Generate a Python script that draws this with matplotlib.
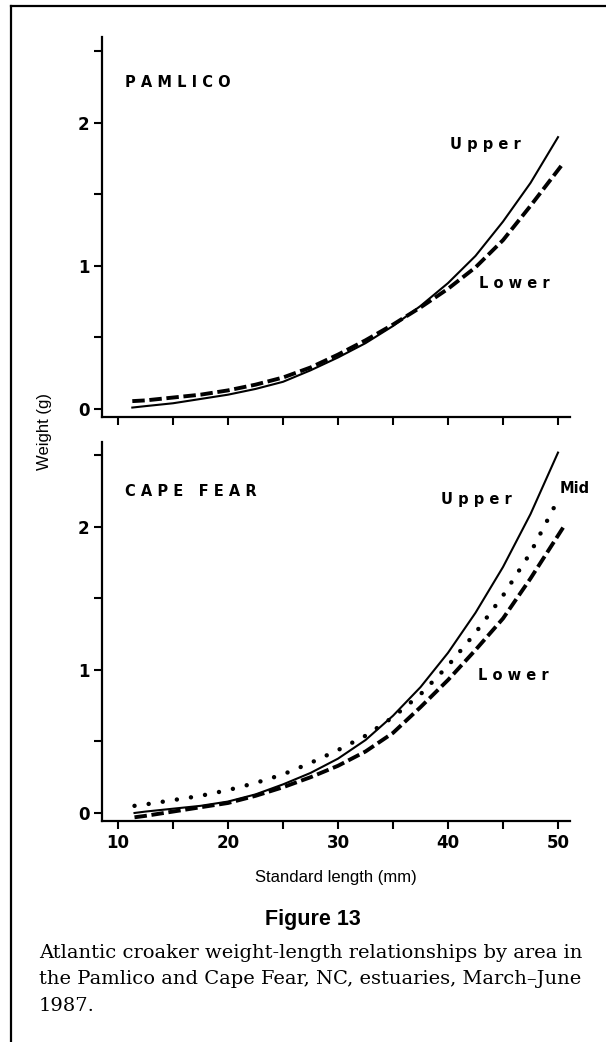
import matplotlib
matplotlib.use("Agg")
import matplotlib.pyplot as plt
from matplotlib.lines import Line2D

# ---------------- data ----------------
pam_upper_len = [11.3, 12.5, 15.0, 17.5, 20.0, 22.5, 25.0, 27.5, 30.0, 32.5,
                 35.0, 37.5, 40.0, 42.5, 45.0, 47.5, 50.0]
pam_upper_wt = [0.01, 0.02, 0.04, 0.07, 0.10, 0.14, 0.19, 0.27, 0.36, 0.46,
                0.58, 0.72, 0.88, 1.07, 1.31, 1.58, 1.90]
pam_lower_len = [11.3, 12.5, 15.0, 17.5, 20.0, 22.5, 25.0, 27.5, 30.0, 32.5,
                 35.0, 37.5, 40.0, 42.5, 45.0, 47.5, 50.5]
pam_lower_wt = [0.055, 0.06, 0.08, 0.10, 0.13, 0.17, 0.22, 0.29, 0.38, 0.48,
                0.59, 0.71, 0.84, 0.99, 1.18, 1.42, 1.72]

cf_upper_len = [11.5, 12.5, 15.0, 17.5, 20.0, 22.5, 25.0, 27.5, 30.0, 32.5,
                35.0, 37.5, 40.0, 42.5, 45.0, 47.5, 50.0]
cf_upper_wt = [0.00, 0.01, 0.03, 0.05, 0.08, 0.13, 0.20, 0.28, 0.38, 0.51,
               0.68, 0.88, 1.12, 1.40, 1.72, 2.09, 2.52]
cf_mid_len = [11.5, 12.5, 15.0, 17.5, 20.0, 22.5, 25.0, 27.5, 30.0, 32.5,
              35.0, 37.5, 40.0, 42.5, 45.0, 47.5, 50.0]
cf_mid_wt = [0.05, 0.06, 0.09, 0.12, 0.16, 0.21, 0.27, 0.35, 0.44, 0.54,
             0.67, 0.83, 1.03, 1.26, 1.52, 1.82, 2.19]
cf_lower_len = [11.5, 12.5, 15.0, 17.5, 20.0, 22.5, 25.0, 27.5, 30.0, 32.5,
                35.0, 37.5, 40.0, 42.5, 45.0, 47.5, 50.5]
cf_lower_wt = [-0.03, -0.02, 0.01, 0.04, 0.07, 0.12, 0.18, 0.25, 0.33, 0.43,
               0.56, 0.74, 0.93, 1.14, 1.36, 1.64, 2.00]

x_ticks = [10, 15, 20, 25, 30, 35, 40, 45, 50]
x_ticklabels = ["10", "", "20", "", "30", "", "40", "", "50"]
y_ticks = [0, 0.5, 1, 1.5, 2, 2.5]
y_ticklabels = ["0", "", "1", "", "2", ""]

caption_lines = ["Atlantic croaker weight-length relationships by area in",
                 "the Pamlico and Cape Fear, NC, estuaries, March\u2013June",
                 "1987."]

# ---------------- figure ----------------
W, H = 606, 1042
fig = plt.figure(figsize=(W / 100, H / 100), dpi=100)

def fx(px):
    return px / W

def fy(py):
    return 1 - py / H

tick_font = dict(family="DejaVu Sans", weight="bold", size=12)
lab_font = dict(family="DejaVu Sans", weight="bold", size=10.5)

def style_axes(ax, ylim_top, show_xlabels):
    ax.set_xlim(8.545, 51.09)
    ax.set_ylim(-0.056, ylim_top)
    for s in ("top", "right"):
        ax.spines[s].set_visible(False)
    for s in ("left", "bottom"):
        ax.spines[s].set_linewidth(1.6)
    ax.set_xticks(x_ticks)
    ax.set_yticks(y_ticks)
    ax.set_yticklabels(y_ticklabels, **tick_font)
    if show_xlabels:
        ax.set_xticklabels(x_ticklabels, **tick_font)
    else:
        ax.set_xticklabels([])
    ax.tick_params(direction="out", length=6, width=1.5, pad=3)

dash = (0, (3.2, 1.2))
dot = (0, (0.01, 3.2))

# top panel
ax1 = fig.add_axes([fx(102), fy(417), fx(570) - fx(102), fy(37) - fy(417)])
style_axes(ax1, 2.60, False)
ax1.plot(pam_upper_len, pam_upper_wt, color="black", lw=1.5)
ax1.plot(pam_lower_len, pam_lower_wt, color="black", lw=2.8, linestyle=dash,
         dash_capstyle="butt")
ax1.text(0.05, 0.88, "P A M L I C O", transform=ax1.transAxes, ha="left",
         va="center", **lab_font)
ax1.text(43.4, 1.85, "U p p e r", ha="center", va="center", **lab_font)
ax1.text(46.0, 0.88, "L o w e r", ha="center", va="center", **lab_font)

# bottom panel
ax2 = fig.add_axes([fx(102), fy(821), fx(570) - fx(102), fy(442) - fy(821)])
style_axes(ax2, 2.594, True)
ax2.plot(cf_upper_len, cf_upper_wt, color="black", lw=1.5)
ax2.plot(cf_mid_len, cf_mid_wt, color="black", lw=3.2, linestyle=dot,
         dash_capstyle="round")
ax2.plot(cf_lower_len, cf_lower_wt, color="black", lw=2.8, linestyle=dash,
         dash_capstyle="butt")
ax2.text(0.05, 0.87, "C A P E   F E A R", transform=ax2.transAxes, ha="left",
         va="center", **lab_font)
ax2.text(42.6, 2.19, "U p p e r", ha="center", va="center", **lab_font)
ax2.text(51.5, 2.27, "Mid", ha="center", va="center", **lab_font)
ax2.text(45.9, 0.96, "L o w e r", ha="center", va="center", **lab_font)
ax2.set_xlabel("Standard length (mm)", family="Liberation Sans", size=12,
               labelpad=13)

fig.text(fx(45), fy(432), "Weight (g)", rotation=90, ha="center", va="center",
         family="Liberation Sans", size=12)

fig.text(fx(313), fy(920), "Figure 13", ha="center", va="center",
         family="Liberation Sans", weight="bold", size=15.5)
for i, line in enumerate(caption_lines):
    fig.text(fx(39), fy(953 + 26.5 * i), line, ha="left", va="center",
             family="DejaVu Serif", size=14)

# border (top and left)
fig.add_artist(Line2D([fx(11), 1.0], [fy(6), fy(6)], color="black", lw=1.6,
                      transform=fig.transFigure))
fig.add_artist(Line2D([fx(11), fx(11)], [fy(6), 0.0], color="black", lw=1.6,
                      transform=fig.transFigure))

fig.savefig("out.png", dpi=100)
